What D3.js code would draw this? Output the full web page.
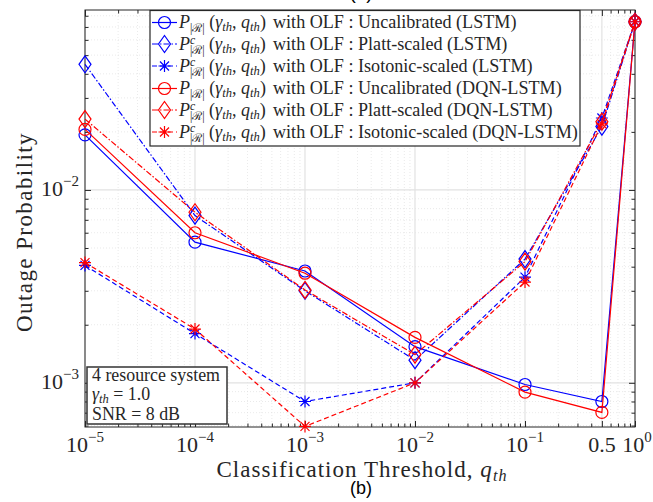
<!DOCTYPE html>
<html>
<head>
<meta charset="utf-8">
<script src="https://cdn.jsdelivr.net/npm/d3@7"></script>
<style>
  body { margin: 0; background: white; }
  text { font-family: "Liberation Serif", "Times New Roman", serif; fill: #262626; }
</style>
</head>
<body>
<div id="container"></div>
<script>
let w = 653;
let h = 502;

// data
let thresholds = [1e-5, 1e-4, 1e-3, 1e-2, 1e-1, 0.5, 1];
let uncalLSTM = [0.0193, 0.00536, 0.0038, 0.00154, 0.00098, 0.00080, 0.0745];
let plattLSTM = [0.0448, 0.00736, 0.0030, 0.00131, 0.00438, 0.0213, 0.0745];
let isoLSTM = [0.00406, 0.00180, 0.00080, 0.00100, 0.00353, 0.0236, 0.0745];
let uncalDQN = [0.0206, 0.0060, 0.0037, 0.00172, 0.000895, 0.000702, 0.0745];
let plattDQN = [0.0233, 0.00766, 0.00303, 0.00140, 0.00425, 0.0226, 0.0745];
let isoDQN = [0.0042, 0.0019, 0.000594, 0.00100, 0.00333, 0.0220, 0.0745];

let xTicks = [1e-5, 1e-4, 1e-3, 1e-2, 1e-1, 0.5, 1];
let xTickExp = [-5, -4, -3, -2, -1, null, 0];
let yTicks = [1e-3, 1e-2];
let yTickExp = [-3, -2];

let seriesNames = ["Uncalibrated (LSTM)", "Platt-scaled (LSTM)", "Isotonic-scaled (LSTM)",
                   "Uncalibrated (DQN-LSTM)", "Platt-scaled (DQN-LSTM)", "Isotonic-scaled (DQN-LSTM)"];
let seriesValues = [uncalLSTM, plattLSTM, isoLSTM, uncalDQN, plattDQN, isoDQN];
let seriesColors = ["#0000ff", "#0000ff", "#0000ff", "#ff0000", "#ff0000", "#ff0000"];
let seriesMarkers = ["circle", "diamond", "star", "circle", "diamond", "star"];
let seriesCalibrated = [false, true, true, false, true, true];
let dashes = { circle: null, diamond: "6,2,1.5,2", star: "5,3" };

let pLeft = 85, pRight = 635, pTop = 10, pBottom = 427;

let viz = d3.select("#container")
  .append("svg")
    .attr("width", w)
    .attr("height", h)
    .style("background-color", "white");

let xScale = d3.scaleLog().domain([1e-5, 1]).range([pLeft, pRight]);
let yScale = d3.scaleLog().domain([5.9e-4, 0.0857]).range([pBottom, pTop]);

// scale a text's font so that it spans the given width
function fitWidth(t, target) {
  let len = t.node().getComputedTextLength();
  let fs = +t.attr("font-size");
  t.attr("font-size", fs * target / len);
  return fs * target / len;
}
// widen a text with letter spacing instead of a bigger font
function spreadWidth(t, target, nChars) {
  let len = t.node().getComputedTextLength();
  t.attr("letter-spacing", (target - len) / nChars);
}

// minor tick positions
let xMinor = [];
for (let d = -5; d <= -1; d++) {
  for (let k = 2; k <= 9; k++) {
    let v = k * Math.pow(10, d);
    if (Math.abs(v - 0.5) > 1e-9) xMinor.push(v);
  }
}
let yMinor = [];
for (let d = -4; d <= -2; d++) {
  for (let k = 2; k <= 9; k++) {
    let v = k * Math.pow(10, d);
    if (v >= 5.9e-4 && v <= 0.0857) yMinor.push(v);
  }
}

// grid
let grid = viz.append("g");
grid.selectAll(".gxm").data(xMinor).enter().append("line")
  .attr("x1", d => xScale(d)).attr("x2", d => xScale(d))
  .attr("y1", pTop).attr("y2", pBottom)
  .attr("stroke", "#dcdcdc").attr("stroke-width", 0.6).attr("stroke-dasharray", "1,2");
grid.selectAll(".gym").data(yMinor).enter().append("line")
  .attr("x1", pLeft).attr("x2", pRight)
  .attr("y1", d => yScale(d)).attr("y2", d => yScale(d))
  .attr("stroke", "#dcdcdc").attr("stroke-width", 0.6).attr("stroke-dasharray", "1,2");
grid.selectAll(".gx").data(xTicks).enter().append("line")
  .attr("x1", d => xScale(d)).attr("x2", d => xScale(d))
  .attr("y1", pTop).attr("y2", pBottom)
  .attr("stroke", "#e2e2e2").attr("stroke-width", 1.2);
grid.selectAll(".gy").data(yTicks).enter().append("line")
  .attr("x1", pLeft).attr("x2", pRight)
  .attr("y1", d => yScale(d)).attr("y2", d => yScale(d))
  .attr("stroke", "#e2e2e2").attr("stroke-width", 1.2);

// axes with inward ticks on all four sides
function styleAxis(g) {
  g.select(".domain").remove();
  g.selectAll("line").attr("stroke", "#262626");
  g.selectAll("text").remove();
}
viz.append("g").attr("transform", "translate(0," + pBottom + ")")
  .call(d3.axisBottom(xScale).tickValues(xTicks).tickSize(-6)).call(styleAxis);
viz.append("g").attr("transform", "translate(0," + pBottom + ")")
  .call(d3.axisBottom(xScale).tickValues(xMinor).tickSize(-3.5)).call(styleAxis);
viz.append("g").attr("transform", "translate(0," + pTop + ")")
  .call(d3.axisTop(xScale).tickValues(xTicks).tickSize(-6)).call(styleAxis);
viz.append("g").attr("transform", "translate(0," + pTop + ")")
  .call(d3.axisTop(xScale).tickValues(xMinor).tickSize(-3.5)).call(styleAxis);
viz.append("g").attr("transform", "translate(" + pLeft + ",0)")
  .call(d3.axisLeft(yScale).tickValues(yTicks).tickSize(-6)).call(styleAxis);
viz.append("g").attr("transform", "translate(" + pLeft + ",0)")
  .call(d3.axisLeft(yScale).tickValues(yMinor).tickSize(-3.5)).call(styleAxis);
viz.append("g").attr("transform", "translate(" + pRight + ",0)")
  .call(d3.axisRight(yScale).tickValues(yTicks).tickSize(-6)).call(styleAxis);
viz.append("g").attr("transform", "translate(" + pRight + ",0)")
  .call(d3.axisRight(yScale).tickValues(yMinor).tickSize(-3.5)).call(styleAxis);

viz.append("rect")
  .attr("x", pLeft).attr("y", pTop)
  .attr("width", pRight - pLeft).attr("height", pBottom - pTop)
  .attr("fill", "none").attr("stroke", "#262626").attr("stroke-width", 1);

// tick labels
function powLabel(g, exp, x, y, anchor) {
  let t = g.append("text").attr("x", x).attr("y", y)
    .attr("text-anchor", anchor).attr("font-size", 22);
  t.append("tspan").text("10");
  t.append("tspan").attr("dy", -10).attr("font-size", 15)
    .text(exp < 0 ? "\u2212" + Math.abs(exp) : String(exp));
}
let tickLabels = viz.append("g");
xTicks.forEach(function (v, i) {
  if (xTickExp[i] === null) {
    tickLabels.append("text").attr("x", xScale(v)).attr("y", 451.5)
      .attr("text-anchor", "middle").attr("font-size", 22).text("0.5");
  } else {
    powLabel(tickLabels, xTickExp[i], xScale(v) + (xTickExp[i] === 0 ? 2 : 0), 451.5, "middle");
  }
});
yTicks.forEach(function (v, i) {
  powLabel(tickLabels, yTickExp[i], 79, yScale(v) + 6.5, "end");
});

// markers
function drawMarker(g, type, color) {
  if (type === "circle") {
    g.append("circle").attr("r", 6).attr("fill", "none")
      .attr("stroke", color).attr("stroke-width", 1.2);
  } else if (type === "diamond") {
    g.append("path").attr("d", "M0,-8.5L6,0L0,8.5L-6,0Z").attr("fill", "none")
      .attr("stroke", color).attr("stroke-width", 1.2);
  } else {
    let r = 6, s = 4.5;
    g.append("path")
      .attr("d", "M" + (-r) + ",0L" + r + ",0M0," + (-r) + "L0," + r +
                 "M" + (-s) + "," + (-s) + "L" + s + "," + s +
                 "M" + (-s) + "," + s + "L" + s + "," + (-s))
      .attr("stroke", color).attr("stroke-width", 1.2);
  }
}

let lineGen = d3.line()
  .x(d => xScale(d[0]))
  .y(d => yScale(d[1]));

seriesValues.forEach(function (vals, i) {
  let pts = thresholds.map((t, j) => [t, vals[j]]);
  let g = viz.append("g");
  g.append("path").datum(pts)
    .attr("d", lineGen)
    .attr("fill", "none")
    .attr("stroke", seriesColors[i])
    .attr("stroke-width", 1.2)
    .attr("stroke-dasharray", dashes[seriesMarkers[i]]);
  pts.forEach(function (p) {
    let mg = g.append("g").attr("transform", "translate(" + xScale(p[0]) + "," + yScale(p[1]) + ")");
    drawMarker(mg, seriesMarkers[i], seriesColors[i]);
  });
});

// legend
let legX = 150, legY = 10.5, legW = 430, legH = 135.5;
let legend = viz.append("g");
legend.append("rect")
  .attr("x", legX).attr("y", legY).attr("width", legW).attr("height", legH)
  .attr("fill", "white").attr("stroke", "#262626").attr("stroke-width", 1.2);

let rowY = [22.5, 44, 66, 88.5, 110, 132];
let mathTexts = [], nameTexts = [];
seriesNames.forEach(function (name, i) {
  let ry = rowY[i];
  let row = legend.append("g");
  row.append("line").attr("x1", 152).attr("x2", 177).attr("y1", ry).attr("y2", ry)
    .attr("stroke", seriesColors[i]).attr("stroke-width", 1.2)
    .attr("stroke-dasharray", dashes[seriesMarkers[i]]);
  let mg = row.append("g").attr("transform", "translate(164.5," + ry + ")");
  drawMarker(mg, seriesMarkers[i], seriesColors[i]);

  let m = row.append("text").attr("x", 179).attr("y", ry + 5.5).attr("font-size", 16);
  m.append("tspan").attr("font-style", "italic").text("P");
  if (seriesCalibrated[i]) {
    m.append("tspan").attr("font-size", "0.65em").attr("font-style", "italic")
      .attr("dy", "-0.45em").text("c");
    m.append("tspan").attr("font-size", "0.65em")
      .attr("dx", "-0.45em").attr("dy", "0.85em").text("|\u211B|");
    m.append("tspan").attr("dy", "-0.26em").text(" (");
  } else {
    m.append("tspan").attr("font-size", "0.65em").attr("dy", "0.3em").text("|\u211B|");
    m.append("tspan").attr("dy", "-0.195em").text(" (");
  }
  m.append("tspan").attr("font-style", "italic").text("\u03B3");
  m.append("tspan").attr("font-style", "italic").attr("font-size", "0.7em").attr("dy", "0.25em").text("th");
  m.append("tspan").attr("dy", "-0.175em").text(", ");
  m.append("tspan").attr("font-style", "italic").text("q");
  m.append("tspan").attr("font-style", "italic").attr("font-size", "0.7em").attr("dy", "0.25em").text("th");
  m.append("tspan").attr("dy", "-0.175em").text(")");
  mathTexts.push(m);

  let n = row.append("text").attr("x", 273).attr("y", ry + 5.5).attr("font-size", 16)
    .text("with OLF : " + name);
  nameTexts.push(n);
});
// fit legend texts to the widths seen in the picture
let mathFont = fitWidth(mathTexts[0], 87);
mathTexts.forEach(t => t.attr("font-size", mathFont));
let maxLen = d3.max(nameTexts, t => t.node().getComputedTextLength());
let nameFont = 16 * (578 - 273) / maxLen;
nameTexts.forEach(t => t.attr("font-size", nameFont));

// annotation box
let ann = viz.append("g");
ann.append("rect").attr("x", 87).attr("y", 367).attr("width", 140).attr("height", 57)
  .attr("fill", "white").attr("stroke", "#333").attr("stroke-width", 1.5);
let a1 = ann.append("text").attr("x", 92).attr("y", 381).attr("font-size", 16).text("4 resource system");
let annFont = fitWidth(a1, 128);
let gt = ann.append("text").attr("x", 92).attr("y", 400).attr("font-size", annFont);
gt.append("tspan").attr("font-style", "italic").text("\u03B3");
gt.append("tspan").attr("font-style", "italic").attr("font-size", "0.7em").attr("dy", "0.25em").text("th");
gt.append("tspan").attr("dy", "-0.175em").text(" = 1.0");
ann.append("text").attr("x", 92).attr("y", 420).attr("font-size", annFont).text("SNR = 8 dB");

// axis labels
let xl = viz.append("text").attr("x", 362).attr("y", 477)
  .attr("text-anchor", "middle").attr("font-size", 23);
xl.append("tspan").text("Classification Threshold, ");
xl.append("tspan").attr("font-style", "italic").text("q");
xl.append("tspan").attr("font-style", "italic").attr("font-size", "0.7em").attr("dy", "0.25em").text("th");
spreadWidth(xl, 290, 28);

let yl = viz.append("text")
  .attr("transform", "translate(32,232) rotate(-90)")
  .attr("text-anchor", "middle").attr("font-size", 23)
  .text("Outage Probability");
spreadWidth(yl, 200, 18);

// panel labels
viz.append("text").attr("x", 361).attr("y", 494).attr("text-anchor", "middle")
  .style("font-family", "'Liberation Sans', Arial, sans-serif").attr("font-size", 18)
  .style("fill", "#000").text("(b)");
viz.append("text").attr("x", 361).attr("y", -1).attr("text-anchor", "middle")
  .style("font-family", "'Liberation Sans', Arial, sans-serif").attr("font-size", 19)
  .style("fill", "#000").text("(a)");
</script>
</body>
</html>
